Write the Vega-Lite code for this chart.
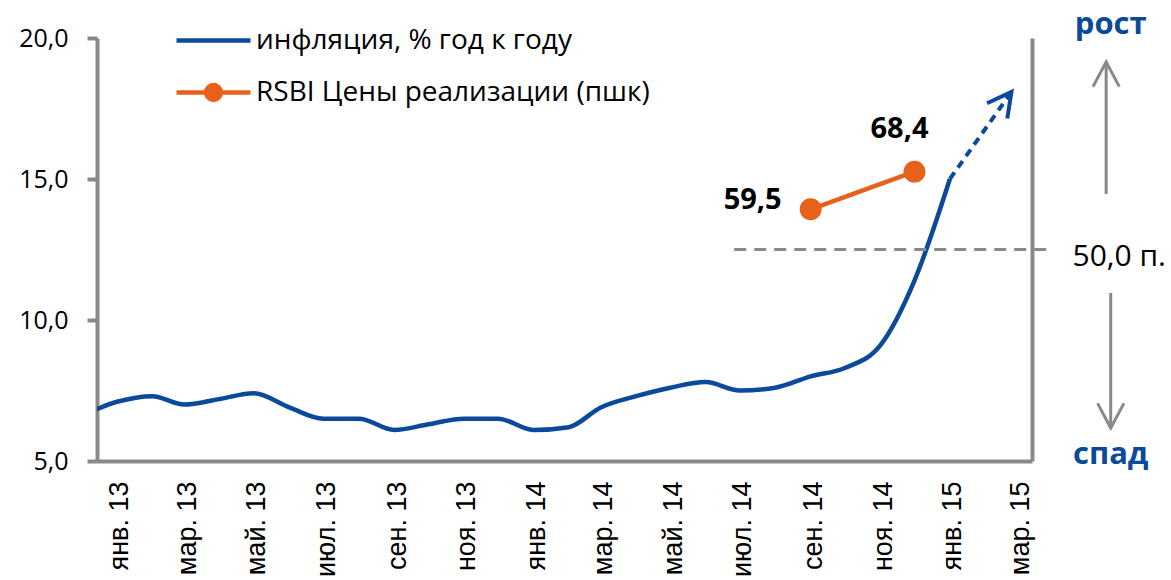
{
  "$schema": "https://vega.github.io/schema/vega-lite/v6.json",
  "width": 935,
  "height": 423,
  "autosize": "none",
  "padding": {"left": 97, "top": 38, "right": 139, "bottom": 119},
  "background": "white",
  "config": {
    "view": {"stroke": null},
    "font": "Open Sans",
    "locale": {
      "number": {"decimal": ",", "thousands": "\u00a0", "grouping": [3], "currency": ["", " ₽"]},
      "time": {
        "dateTime": "%A, %e %B %Y г. %X",
        "date": "%d.%m.%Y",
        "time": "%H:%M:%S",
        "periods": ["AM", "PM"],
        "days": ["воскресенье", "понедельник", "вторник", "среда", "четверг", "пятница", "суббота"],
        "shortDays": ["вс", "пн", "вт", "ср", "чт", "пт", "сб"],
        "months": ["январь", "февраль", "март", "апрель", "май", "июнь", "июль", "август", "сентябрь", "октябрь", "ноябрь", "декабрь"],
        "shortMonths": ["янв", "фев", "мар", "апр", "май", "июн", "июл", "авг", "сен", "окт", "ноя", "дек"]
      }
    },
    "axis": {
      "grid": false,
      "domainColor": "#898989",
      "domainWidth": 4,
      "tickColor": "#898989",
      "tickWidth": 4,
      "labelColor": "#000000",
      "title": null
    }
  },
  "datasets": {
    "inflation": [
      {"date": "2012-12-01", "value": 6.6},
      {"date": "2013-01-01", "value": 7.1},
      {"date": "2013-02-01", "value": 7.3},
      {"date": "2013-03-01", "value": 7.0},
      {"date": "2013-04-01", "value": 7.2},
      {"date": "2013-05-01", "value": 7.4},
      {"date": "2013-06-01", "value": 6.9},
      {"date": "2013-07-01", "value": 6.5},
      {"date": "2013-08-01", "value": 6.5},
      {"date": "2013-09-01", "value": 6.1},
      {"date": "2013-10-01", "value": 6.3},
      {"date": "2013-11-01", "value": 6.5},
      {"date": "2013-12-01", "value": 6.5},
      {"date": "2014-01-01", "value": 6.1},
      {"date": "2014-02-01", "value": 6.2},
      {"date": "2014-03-01", "value": 6.9},
      {"date": "2014-04-01", "value": 7.3},
      {"date": "2014-05-01", "value": 7.6},
      {"date": "2014-06-01", "value": 7.8},
      {"date": "2014-07-01", "value": 7.5},
      {"date": "2014-08-01", "value": 7.6},
      {"date": "2014-09-01", "value": 8.0},
      {"date": "2014-10-01", "value": 8.3},
      {"date": "2014-11-01", "value": 9.1},
      {"date": "2014-12-01", "value": 11.4},
      {"date": "2015-01-01", "value": 15.0}
    ],
    "rsbi": [
      {"date": "2014-09-01", "value": 59.5},
      {"date": "2014-12-01", "value": 68.4}
    ]
  },
  "layer": [
    {
      "layer": [
        {
          "data": {"name": "inflation"},
          "mark": {"type": "line", "interpolate": "monotone", "strokeWidth": 4.5, "clip": true},
          "encoding": {
            "x": {
              "field": "date",
              "type": "temporal",
              "title": null,
              "scale": {
                "type": "utc",
                "domain": [
                  {"year": 2012, "month": 12, "date": 14, "hours": 12, "utc": true},
                  {"year": 2015, "month": 3, "date": 14, "utc": true}
                ]
              },
              "axis": {
                "format": "%b. %y",
                "tickCount": {"interval": "month", "step": 2},
                "labelAngle": -90,
                "ticks": false,
                "labelPadding": 20,
                "labelOffset": 3,
                "labelFont": "Liberation Sans",
                "labelFontSize": 27,
                "labelOverlap": false,
                "labelFlush": false,
                "labelBound": false
              }
            },
            "y": {
              "field": "value",
              "type": "quantitative",
              "title": null,
              "scale": {"domain": [5, 20], "nice": false},
              "axis": {
                "values": [5, 10, 15, 20],
                "format": ".1f",
                "tickSize": 10,
                "labelPadding": 19,
                "labelFont": "Open Sans",
                "labelFontSize": 25
              }
            },
            "color": {
              "datum": "инфляция, % год к году",
              "type": "nominal",
              "scale": {"range": ["#0B4A9B"]},
              "legend": {
                "orient": "none",
                "legendX": 77,
                "legendY": -37,
                "title": null,
                "padding": 0,
                "symbolType": "M-1,0L1,0",
                "symbolSize": 5476,
                "symbolStrokeWidth": 4.5,
                "labelFont": "Open Sans",
                "labelFontSize": 28,
                "labelColor": "#000000",
                "labelOffset": 3,
                "labelLimit": 600
              }
            }
          }
        },
        {
          "data": {"values": [{}]},
          "mark": {"type": "rule", "color": "#0B4A9B", "strokeWidth": 4, "strokeDash": [8, 6]},
          "encoding": {
            "x": {"datum": {"year": 2015, "month": 1, "date": 1, "utc": true}, "type": "temporal"},
            "y": {"datum": 15.0},
            "x2": {"datum": {"year": 2015, "month": 2, "date": 24, "utc": true}},
            "y2": {"datum": 18.09}
          }
        },
        {
          "data": {"values": [{}]},
          "mark": {"type": "point", "shape": "M-0.47,0.88L0,0L0.47,0.88", "filled": false, "stroke": "#0B4A9B", "strokeWidth": 4, "size": 2916, "angle": 37, "opacity": 1},
          "encoding": {
            "x": {"datum": {"year": 2015, "month": 2, "date": 24, "utc": true}, "type": "temporal"},
            "y": {"datum": 18.09}
          }
        },
        {
          "data": {"values": [{}]},
          "mark": {"type": "rule", "color": "#898989", "strokeWidth": 3},
          "encoding": {
            "x": {"datum": {"year": 2015, "month": 5, "date": 18, "utc": true}, "type": "temporal"},
            "y": {"datum": 19.15},
            "y2": {"datum": 14.47}
          }
        },
        {
          "data": {"values": [{}]},
          "mark": {"type": "rule", "color": "#898989", "strokeWidth": 3},
          "encoding": {
            "x": {"datum": {"year": 2015, "month": 5, "date": 22, "utc": true}, "type": "temporal"},
            "y": {"datum": 10.96},
            "y2": {"datum": 6.17}
          }
        },
        {
          "data": {"values": [{}]},
          "mark": {"type": "point", "shape": "M-0.47,0.88L0,0L0.47,0.88", "filled": false, "stroke": "#898989", "strokeWidth": 3, "size": 3136, "angle": 0, "opacity": 1},
          "encoding": {
            "x": {"datum": {"year": 2015, "month": 5, "date": 18, "utc": true}, "type": "temporal"},
            "y": {"datum": 19.15}
          }
        },
        {
          "data": {"values": [{}]},
          "mark": {"type": "point", "shape": "M-0.47,0.88L0,0L0.47,0.88", "filled": false, "stroke": "#898989", "strokeWidth": 3, "size": 3136, "angle": 180, "opacity": 1},
          "encoding": {
            "x": {"datum": {"year": 2015, "month": 5, "date": 22, "utc": true}, "type": "temporal"},
            "y": {"datum": 6.17}
          }
        },
        {
          "data": {"values": [{}]},
          "mark": {"type": "text", "text": "рост", "font": "Open Sans", "fontSize": 31, "fontWeight": "bold", "color": "#0B4A9B", "align": "center", "baseline": "middle"},
          "encoding": {
            "x": {"datum": {"year": 2015, "month": 5, "date": 22, "utc": true}, "type": "temporal"},
            "y": {"datum": 20.46}
          }
        },
        {
          "data": {"values": [{}]},
          "mark": {"type": "text", "text": "спад", "font": "Open Sans", "fontSize": 31, "fontWeight": "bold", "color": "#0B4A9B", "align": "center", "baseline": "middle"},
          "encoding": {
            "x": {"datum": {"year": 2015, "month": 5, "date": 22, "utc": true}, "type": "temporal"},
            "y": {"datum": 5.21}
          }
        }
      ]
    },
    {
      "layer": [
        {
          "data": {"values": [{}]},
          "mark": {"type": "rule", "color": "#898989", "strokeWidth": 3, "strokeDash": [12, 8]},
          "encoding": {
            "x": {"datum": {"year": 2014, "month": 6, "date": 26, "utc": true}, "type": "temporal"},
            "x2": {"datum": {"year": 2015, "month": 3, "date": 28, "utc": true}},
            "y": {"datum": 50}
          }
        },
        {
          "data": {"name": "rsbi"},
          "mark": {"type": "line", "color": "#E8611A", "strokeWidth": 4.5},
          "encoding": {
            "x": {"field": "date", "type": "temporal", "title": null},
            "y": {
              "field": "value",
              "type": "quantitative",
              "title": null,
              "scale": {"domain": [0, 100], "nice": false},
              "axis": {
                "orient": "right",
                "values": [50],
                "labelExpr": "'50,0 п.'",
                "ticks": false,
                "labelPadding": 40,
                "labelOffset": 7,
                "labelFont": "Open Sans",
                "labelFontSize": 30
              }
            }
          }
        },
        {
          "data": {"name": "rsbi"},
          "mark": {"type": "point", "shape": "circle", "filled": true, "size": 480, "opacity": 1},
          "encoding": {
            "x": {"field": "date", "type": "temporal", "title": null},
            "y": {"field": "value", "type": "quantitative", "title": null},
            "fill": {
              "datum": "RSBI Цены реализации (пшк)",
              "type": "nominal",
              "scale": {"range": ["#E8611A"]},
              "legend": {
                "orient": "none",
                "legendX": 77,
                "legendY": 15,
                "title": null,
                "padding": 0,
                "symbolType": "M-1,0L1,0M0.2,0A0.2,0.2,0,1,1,-0.2,0A0.2,0.2,0,1,1,0.2,0Z",
                "symbolSize": 5476,
                "symbolStrokeColor": "#E8611A",
                "symbolStrokeWidth": 4.5,
                "labelFont": "Open Sans",
                "labelFontSize": 28,
                "labelColor": "#000000",
                "labelOffset": 3,
                "labelLimit": 600
              }
            }
          }
        },
        {
          "data": {"name": "rsbi"},
          "transform": [{"filter": "datum.value < 60"}],
          "mark": {"type": "text", "font": "Open Sans", "fontSize": 29, "fontWeight": "bold", "color": "#000000", "align": "right", "baseline": "middle", "dx": -29, "dy": -9},
          "encoding": {
            "x": {"field": "date", "type": "temporal", "title": null},
            "y": {"field": "value", "type": "quantitative", "title": null},
            "text": {"field": "value", "type": "quantitative", "format": ".1f"}
          }
        },
        {
          "data": {"name": "rsbi"},
          "transform": [{"filter": "datum.value > 60"}],
          "mark": {"type": "text", "font": "Open Sans", "fontSize": 29, "fontWeight": "bold", "color": "#000000", "align": "center", "baseline": "middle", "dx": -15, "dy": -43},
          "encoding": {
            "x": {"field": "date", "type": "temporal", "title": null},
            "y": {"field": "value", "type": "quantitative", "title": null},
            "text": {"field": "value", "type": "quantitative", "format": ".1f"}
          }
        }
      ]
    }
  ],
  "resolve": {"scale": {"y": "independent"}}
}
